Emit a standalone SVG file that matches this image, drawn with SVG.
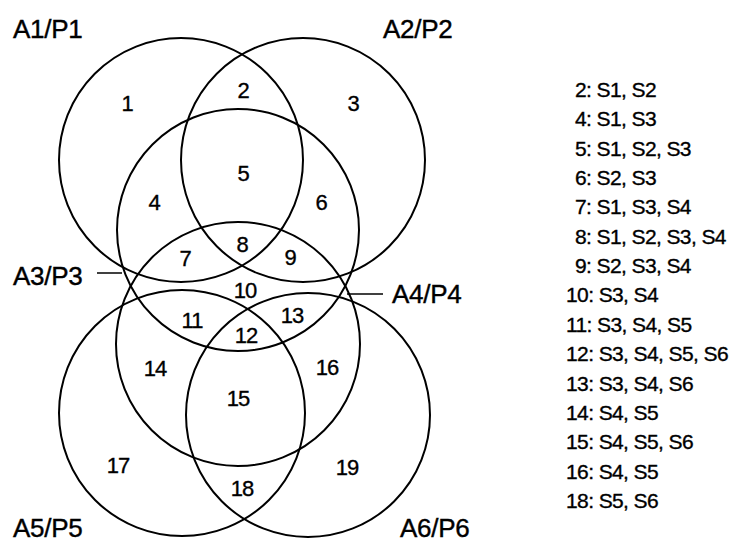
<svg xmlns="http://www.w3.org/2000/svg" width="729" height="544" viewBox="0 0 729 544">
<style>
.c{fill:none;stroke:#000;stroke-width:2}
.lbl{font-family:"Liberation Sans",Arial,sans-serif;font-size:26px;letter-spacing:-0.3px;fill:#000;stroke:#000;stroke-width:0.4}
.num{font-family:"Liberation Sans",Arial,sans-serif;font-size:22px;letter-spacing:-1px;fill:#000;stroke:#000;stroke-width:0.35;text-anchor:middle}
.leg{font-family:"Liberation Sans",Arial,sans-serif;font-size:21px;letter-spacing:-0.6px;fill:#000;stroke:#000;stroke-width:0.35}
.ln{stroke:#000;stroke-width:1.5}
</style>
<rect width="729" height="544" fill="#fff"/>
<g id="A1"><circle class="c" cx="181" cy="160" r="122"/><text class="lbl" x="13" y="38">A1/P1</text></g>
<g id="A2"><circle class="c" cx="303" cy="160" r="122"/><text class="lbl" x="383" y="38">A2/P2</text></g>
<g id="A3"><circle class="c" cx="238" cy="230" r="121"/><text class="lbl" x="13" y="285">A3/P3</text></g>
<g id="A4"><circle class="c" cx="238" cy="344" r="122"/><text class="lbl" x="392" y="303">A4/P4</text></g>
<g id="A5"><circle class="c" cx="182" cy="413" r="123"/><text class="lbl" x="13" y="537">A5/P5</text></g>
<g id="A6"><circle class="c" cx="308" cy="415" r="122"/><text class="lbl" x="400" y="537">A6/P6</text></g>
<g id="connectors">
<line class="ln" x1="97" y1="273" x2="122" y2="273"/>
<line class="ln" x1="347" y1="294" x2="383" y2="294"/>
</g>
<g id="regions">
<text class="num" x="127" y="111">1</text>
<text class="num" x="243" y="98">2</text>
<text class="num" x="353" y="111">3</text>
<text class="num" x="154" y="210">4</text>
<text class="num" x="243" y="181">5</text>
<text class="num" x="321" y="210">6</text>
<text class="num" x="185" y="266">7</text>
<text class="num" x="242" y="252">8</text>
<text class="num" x="290" y="265">9</text>
<text class="num" x="245" y="298">10</text>
<text class="num" x="192" y="328">11</text>
<text class="num" x="246" y="343">12</text>
<text class="num" x="292" y="323">13</text>
<text class="num" x="155" y="376">14</text>
<text class="num" x="238" y="406">15</text>
<text class="num" x="327" y="375">16</text>
<text class="num" x="118" y="473">17</text>
<text class="num" x="242" y="496">18</text>
<text class="num" x="347" y="475">19</text>
</g>
<g id="legend">
<text class="leg" x="575" y="97">2: S1, S2</text>
<text class="leg" x="575" y="126">4: S1, S3</text>
<text class="leg" x="575" y="156">5: S1, S2, S3</text>
<text class="leg" x="575" y="185">6: S2, S3</text>
<text class="leg" x="575" y="214">7: S1, S3, S4</text>
<text class="leg" x="575" y="244">8: S1, S2, S3, S4</text>
<text class="leg" x="575" y="273">9: S2, S3, S4</text>
<text class="leg" x="566" y="302">10: S3, S4</text>
<text class="leg" x="566" y="332">11: S3, S4, S5</text>
<text class="leg" x="566" y="361">12: S3, S4, S5, S6</text>
<text class="leg" x="566" y="391">13: S3, S4, S6</text>
<text class="leg" x="566" y="420">14: S4, S5</text>
<text class="leg" x="566" y="449">15: S4, S5, S6</text>
<text class="leg" x="566" y="479">16: S4, S5</text>
<text class="leg" x="566" y="508">18: S5, S6</text>
</g>
</svg>
